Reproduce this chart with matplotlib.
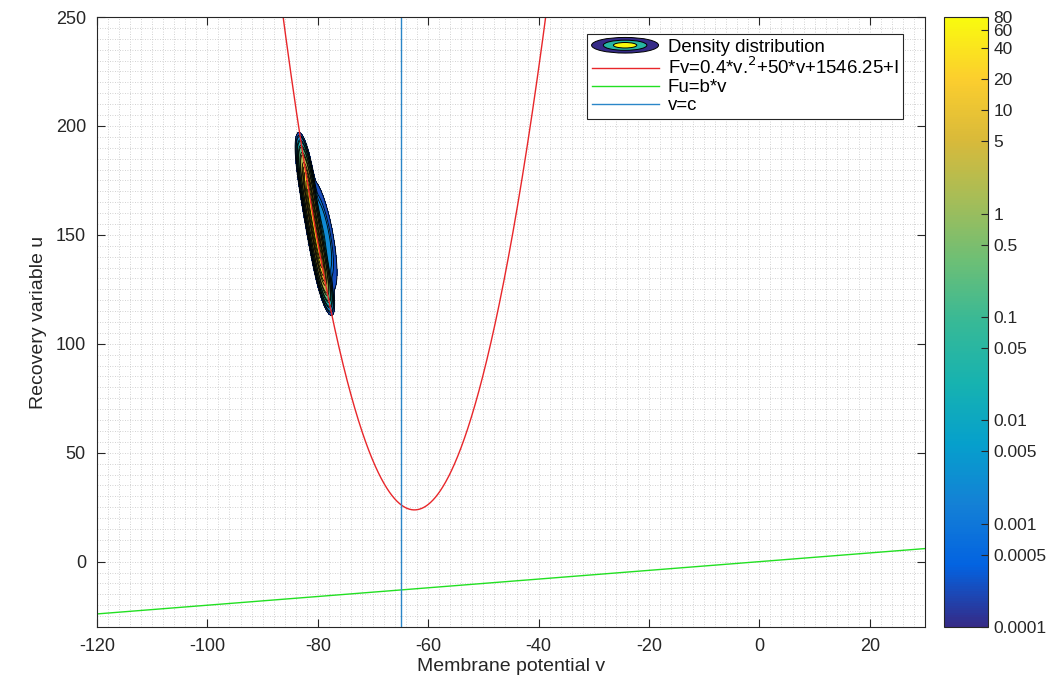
import numpy as np
import matplotlib
matplotlib.use("Agg")
import matplotlib.pyplot as plt
from matplotlib.colors import LinearSegmentedColormap, LogNorm
from matplotlib.legend_handler import HandlerBase
from matplotlib.patches import Ellipse
from matplotlib.lines import Line2D

plt.rcParams['font.family'] = ['Liberation Sans', 'DejaVu Sans']
plt.rcParams['axes.unicode_minus'] = False

# axis settings
x_lim = (-120, 30)
y_lim = (-30, 250)
x_ticks = [-120, -100, -80, -60, -40, -20, 0, 20]
y_ticks = [0, 50, 100, 150, 200, 250]

# nullcline parameters (from the legend text)
fv_a, fv_b, fv_c = 0.4, 50.0, 1546.25
I_ext = 40.0
fu_b = 0.2
v_reset = -65.0

# density contour levels / colorbar
levels = [1e-4, 5e-4, 1e-3, 5e-3, 1e-2, 5e-2, 0.1, 0.5, 1, 5, 10, 20, 40, 60, 80]
cbar_labels = ['0.0001', '0.0005', '0.001', '0.005', '0.01', '0.05', '0.1', '0.5',
               '1', '5', '10', '20', '40', '60', '80']

# density blob: ridge along left branch + weaker lobe on its right
ridge_peak, ridge_u0, ridge_su, ridge_d0, ridge_sd = 80.0, 155.0, 18.4, -0.1, 0.3
lobe_peak, lobe_u0, lobe_su, lobe_d0, lobe_sd = 0.006, 150.0, 9.0, 0.9, 0.75

# parula-like colormap
parula_pts = [(0.208, 0.166, 0.529), (0.012, 0.388, 0.882), (0.078, 0.504, 0.838),
              (0.023, 0.627, 0.800), (0.090, 0.700, 0.690), (0.216, 0.725, 0.590),
              (0.424, 0.748, 0.462), (0.647, 0.741, 0.345), (0.851, 0.729, 0.227),
              (0.988, 0.808, 0.180), (0.976, 0.984, 0.055)]
parula = LinearSegmentedColormap.from_list('parula', parula_pts)
norm = LogNorm(vmin=levels[0], vmax=levels[-1])

fig = plt.figure(figsize=(10.61, 6.77), dpi=100)
ax = fig.add_axes([97/1061, 50/677, 828/1061, 610/677])
cax = fig.add_axes([944/1061, 50/677, 44/1061, 610/677])

# density grid
vg = np.linspace(-92, -70, 600)
ug = np.linspace(100, 210, 600)
V, U = np.meshgrid(vg, ug)
v_vertex = -fv_b / (2 * fv_a)
u_min = fv_a * v_vertex**2 + fv_b * v_vertex + fv_c + I_ext
VC = v_vertex - np.sqrt(np.clip(U - u_min, 0, None) / fv_a)
D = V - VC
Z = ridge_peak * np.exp(-0.5 * ((U - ridge_u0) / ridge_su)**4) * np.exp(-0.5 * ((D - ridge_d0) / ridge_sd)**2)
Z += lobe_peak * np.exp(-0.5 * ((U - lobe_u0) / lobe_su)**2) * np.exp(-0.5 * ((D - lobe_d0) / lobe_sd)**2)
Z = np.clip(Z, 1e-9, None)

ax.contourf(V, U, Z, levels=levels, cmap=parula, norm=norm, extend='neither')
ax.contour(V, U, Z, levels=levels, colors='k', linewidths=0.6)

# nullclines
v = np.linspace(x_lim[0], x_lim[1], 2000)
fv = fv_a * v**2 + fv_b * v + fv_c + I_ext
ax.plot(v, fv, color='#e8262a', lw=1.0)
ax.plot(v, fu_b * v, color='#22e022', lw=1.0)
ax.axvline(v_reset, color='#2a86c8', lw=1.0)

ax.set_xlim(*x_lim)
ax.set_ylim(*y_lim)
ax.set_xticks(x_ticks)
ax.set_yticks(y_ticks)
ax.set_xticks(np.arange(-120, 31, 2), minor=True)
ax.set_yticks(np.arange(-30, 251, 5), minor=True)
ax.grid(which='both', color='#c4c4c4', linestyle=(0, (1, 2)), linewidth=0.6)
ax.set_axisbelow(True)
ax.tick_params(which='major', direction='in', length=6, top=True, right=True,
               labelsize=13, colors='#262626', pad=8)
ax.tick_params(which='minor', length=0)
for s in ax.spines.values():
    s.set_color('#262626')
    s.set_linewidth(0.8)
ax.set_xlabel('Membrane potential v', fontsize=14, color='#262626', labelpad=2)
ax.set_ylabel('Recovery variable u', fontsize=14, color='#262626', labelpad=6)


# legend with an elliptic contour handle
class ContourHandle:
    pass


class HandlerContour(HandlerBase):
    def create_artists(self, legend, orig_handle, xdescent, ydescent, width, height, fontsize, trans):
        cx, cy = width / 2 - xdescent, height / 2 - ydescent
        arts = []
        for f, c in [(1.0, parula(0.0)), (0.65, parula(0.45)), (0.35, parula(1.0))]:
            e = Ellipse((cx, cy), width * f, height * 1.2 * f, facecolor=c,
                        edgecolor='k', lw=0.7, transform=trans)
            arts.append(e)
        return arts


handles = [ContourHandle(),
           Line2D([], [], color='#e8262a', lw=1.0),
           Line2D([], [], color='#22e022', lw=1.0),
           Line2D([], [], color='#2a86c8', lw=1.0)]
labels = ['Density distribution', 'Fv=0.4*v.$^2$+50*v+1546.25+I', 'Fu=b*v', 'v=c']
leg = ax.legend(handles, labels, handler_map={ContourHandle: HandlerContour()},
                loc='upper right', bbox_to_anchor=(0.974, 0.972), fontsize=13.4,
                handlelength=3.6, handletextpad=0.5, labelspacing=0.05,
                borderpad=0.25, borderaxespad=0, fancybox=False, framealpha=1,
                edgecolor='#262626')
leg.get_frame().set_linewidth(0.8)

# colorbar
sm = matplotlib.cm.ScalarMappable(norm=norm, cmap=parula)
cb = fig.colorbar(sm, cax=cax, ticks=levels)
cb.ax.set_yticklabels(cbar_labels)
cb.ax.minorticks_off()
cb.ax.tick_params(direction='in', length=5, labelsize=12.5, colors='#262626', pad=4)
cb.outline.set_edgecolor('#262626')
cb.outline.set_linewidth(0.8)

fig.savefig('out.png', dpi=100)
